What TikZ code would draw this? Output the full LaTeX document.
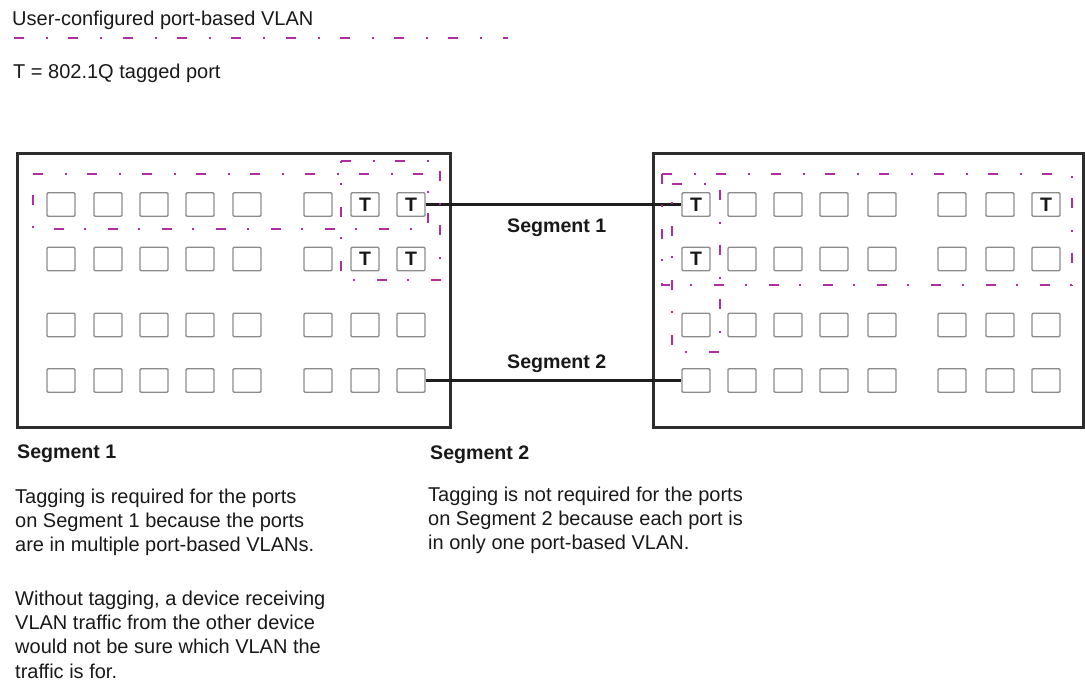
\documentclass[tikz,border=0pt]{standalone}
\usepackage{fontspec}
\setmainfont{Liberation Sans}
\definecolor{portgray}{RGB}{140,140,140}
\definecolor{boxgray}{RGB}{45,45,45}
\definecolor{linkblack}{RGB}{30,30,30}
\definecolor{vlanmag}{RGB}{178,45,160}
\definecolor{txtcol}{RGB}{25,25,25}
\begin{document}
\begin{tikzpicture}[x=1pt,y=-1pt,
  port/.style={draw=portgray, line width=1.4pt, rounded corners=1.2pt, minimum width=28pt, minimum height=23.5pt, inner sep=0pt},
  tlabel/.style={inner sep=0pt, text=txtcol, font=\fontsize{19.5}{20}\selectfont\bfseries},
  switchbox/.style={draw=boxgray, line width=3pt},
  link/.style={draw=linkblack, line width=3pt},
  vlan/.style={draw=vlanmag, line width=2.6pt, dash pattern=on 10pt off 22pt on 2pt off 20.3pt},
  txt/.style={font=\fontsize{20}{24.3}\selectfont, text=txtcol, inner sep=0pt, align=left, anchor=base west},
  seg/.style={font=\fontsize{19.6}{24}\selectfont\bfseries, text=txtcol, inner sep=0pt, anchor=base west}]
\useasboundingbox (0,0) rectangle (1085,681);

% legend
\node[txt] (legend1) at (12,25) {User-configured port-based VLAN};
\draw[vlan] (14,38) -- (508,38);
\node[txt] (legend2) at (13,78) {T = 802.1Q tagged port};

% switches
\draw[switchbox] (17,153) rectangle (450,427);
\draw[switchbox] (653,153) rectangle (1083,427);

% ports
\foreach \c/\x in {1/61,2/108,3/154,4/200,5/247,6/318,7/365,8/411}
  \foreach \r/\y in {1/204.5,2/259,3/325,4/380.5}
    \node[port] (L\r\c) at (\x,\y) {};
\foreach \c/\x in {1/696,2/742,3/788,4/834,5/882,6/952,7/1000,8/1046}
  \foreach \r/\y in {1/204.5,2/259,3/325,4/380.5}
    \node[port] (R\r\c) at (\x,\y) {};

% tagged ports
\node[tlabel] (tL17) at (L17) {T};
\node[tlabel] (tL18) at (L18) {T};
\node[tlabel] (tL27) at (L27) {T};
\node[tlabel] (tL28) at (L28) {T};
\node[tlabel] (tR11) at (R11) {T};
\node[tlabel] (tR18) at (R18) {T};
\node[tlabel] (tR21) at (R21) {T};

% segments
\draw[link] (L18.east) -- (R11.west);
\draw[link] (L48.east) -- (R41.west);
\node[seg] (seg1) at (507,232) {Segment 1};
\node[seg] (seg2) at (507,368) {Segment 2};

% VLAN outlines
\draw[vlan] (33,174) -- (428,174) -- (428,229) -- (33,229) -- cycle;
\draw[vlan] (341,161) -- (440,161) -- (440,280) -- (341,280) -- cycle;
\draw[vlan] (662,174) -- (1072,174) -- (1072,285) -- (662,285) -- cycle;
\draw[vlan] (672,184) -- (720,184) -- (720,352) -- (672,352) -- cycle;

% explanations (base anchor = baseline of last line)
\node[seg] (h1) at (17,458) {Segment 1};
\node[seg] (h2) at (430,459) {Segment 2};
\node[txt] (p1) at (15,551.6) {Tagging is required for the ports\\on Segment 1 because the ports\\are in multiple port-based VLANs.};
\node[txt] (p2) at (15,678) {Without tagging, a device receiving\\VLAN traffic from the other device\\would not be sure which VLAN the\\traffic is for.};
\node[txt] (p3) at (428,549.6) {Tagging is not required for the ports\\on Segment 2 because each port is\\in only one port-based VLAN.};
\end{tikzpicture}
\end{document}
